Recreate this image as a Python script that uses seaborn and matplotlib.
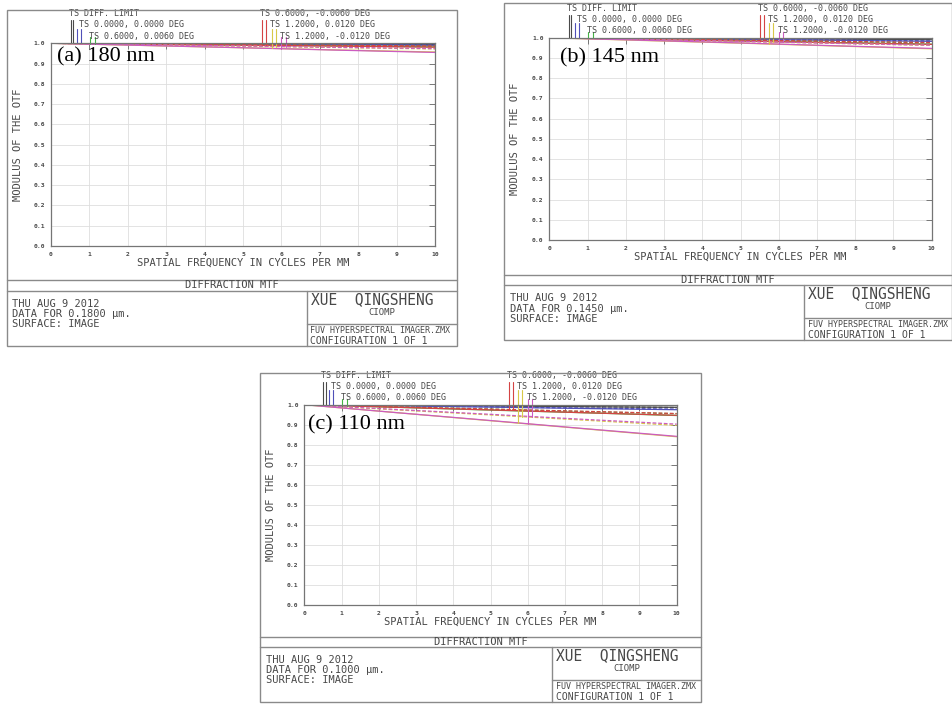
import numpy as np
import pandas as pd
import matplotlib
matplotlib.use("Agg")
import matplotlib.pyplot as plt
import seaborn as sns
from matplotlib.lines import Line2D
from matplotlib.patches import Rectangle

# ---------------- data ----------------
freq = [0, 2.5, 5, 7.5, 10]

# (a) 180 nm
a_diff_t = [1.0, 0.999, 0.997, 0.995, 0.994]
a_diff_s = [1.0, 0.999, 0.997, 0.995, 0.993]
a_f0_t = [1.0, 0.998, 0.995, 0.993, 0.990]
a_f0_s = [1.0, 0.998, 0.996, 0.993, 0.991]
a_f06p_t = [1.0, 0.996, 0.991, 0.987, 0.982]
a_f06p_s = [1.0, 0.997, 0.993, 0.990, 0.986]
a_f06m_t = [1.0, 0.995, 0.990, 0.986, 0.981]
a_f06m_s = [1.0, 0.997, 0.993, 0.990, 0.987]
a_f12p_t = [1.0, 0.989, 0.978, 0.967, 0.957]
a_f12p_s = [1.0, 0.993, 0.986, 0.979, 0.972]
a_f12m_t = [1.0, 0.989, 0.978, 0.966, 0.955]
a_f12m_s = [1.0, 0.993, 0.987, 0.980, 0.974]

# (b) 145 nm
b_diff_t = [1.0, 0.998, 0.995, 0.993, 0.990]
b_diff_s = [1.0, 0.998, 0.995, 0.993, 0.990]
b_f0_t = [1.0, 0.996, 0.991, 0.987, 0.982]
b_f0_s = [1.0, 0.996, 0.992, 0.988, 0.984]
b_f06p_t = [1.0, 0.992, 0.984, 0.976, 0.968]
b_f06p_s = [1.0, 0.994, 0.988, 0.981, 0.975]
b_f06m_t = [1.0, 0.992, 0.984, 0.975, 0.967]
b_f06m_s = [1.0, 0.994, 0.988, 0.982, 0.976]
b_f12p_t = [1.0, 0.986, 0.973, 0.959, 0.945]
b_f12p_s = [1.0, 0.991, 0.981, 0.972, 0.962]
b_f12m_t = [1.0, 0.987, 0.974, 0.960, 0.947]
b_f12m_s = [1.0, 0.991, 0.982, 0.972, 0.963]

# (c) 110 nm
c_diff_t = [1.0, 0.997, 0.994, 0.990, 0.987]
c_diff_s = [1.0, 0.997, 0.993, 0.990, 0.986]
c_f0_t = [1.0, 0.994, 0.988, 0.981, 0.975]
c_f0_s = [1.0, 0.995, 0.989, 0.983, 0.978]
c_f06p_t = [1.0, 0.987, 0.973, 0.960, 0.946]
c_f06p_s = [1.0, 0.989, 0.978, 0.966, 0.955]
c_f06m_t = [1.0, 0.987, 0.974, 0.960, 0.947]
c_f06m_s = [1.0, 0.989, 0.978, 0.967, 0.956]
c_f12p_t = [1.0, 0.960, 0.920, 0.880, 0.840]
c_f12p_s = [1.0, 0.974, 0.949, 0.923, 0.897]
c_f12m_t = [1.0, 0.960, 0.921, 0.881, 0.842]
c_f12m_s = [1.0, 0.976, 0.952, 0.927, 0.903]

field_keys = ["diff", "f0", "f06p", "f06m", "f12p", "f12m"]
legend_left = ["TS DIFF. LIMIT", "TS 0.0000, 0.0000 DEG", "TS 0.6000, 0.0060 DEG"]
legend_right = ["TS 0.6000, -0.0060 DEG", "TS 1.2000, 0.0120 DEG", "TS 1.2000, -0.0120 DEG"]
panel_titles = ["(a) 180 nm", "(b) 145 nm", "(c) 110 nm"]
wavelength_texts = ["DATA FOR 0.1800 µm.", "DATA FOR 0.1450 µm.", "DATA FOR 0.1000 µm."]
xtick_vals = list(range(0, 11))
ytick_vals = [round(0.1 * i, 1) for i in range(11)]
ytick_labels = [f"{v:.1f}" for v in ytick_vals]

panel_data = {
    "a": {"diff": (a_diff_t, a_diff_s), "f0": (a_f0_t, a_f0_s), "f06p": (a_f06p_t, a_f06p_s),
          "f06m": (a_f06m_t, a_f06m_s), "f12p": (a_f12p_t, a_f12p_s), "f12m": (a_f12m_t, a_f12m_s)},
    "b": {"diff": (b_diff_t, b_diff_s), "f0": (b_f0_t, b_f0_s), "f06p": (b_f06p_t, b_f06p_s),
          "f06m": (b_f06m_t, b_f06m_s), "f12p": (b_f12p_t, b_f12p_s), "f12m": (b_f12m_t, b_f12m_s)},
    "c": {"diff": (c_diff_t, c_diff_s), "f0": (c_f0_t, c_f0_s), "f06p": (c_f06p_t, c_f06p_s),
          "f06m": (c_f06m_t, c_f06m_s), "f12p": (c_f12p_t, c_f12p_s), "f12m": (c_f12m_t, c_f12m_s)},
}

# ---------------- style ----------------
sns.set_style("white")
plt.rcParams['font.family'] = ['DejaVu Sans Mono', 'DejaVu Sans']

colors = {"diff": "#4a4a4a", "f0": "#5050b8", "f06p": "#44b444", "f06m": "#d44444",
          "f12p": "#d8c848", "f12m": "#cc5cc0"}
EDGE = "#8a8a8a"
TXT = "#484848"

W, H = 952, 704
fig = plt.figure(figsize=(W / 100, H / 100), dpi=100)
fig.patch.set_facecolor("white")


def fx(x):
    return x / W


def fy(y):
    return 1 - y / H


def fline(x0, y0, x1, y1):
    fig.add_artist(Line2D([fx(x0), fx(x1)], [fy(y0), fy(y1)], transform=fig.transFigure,
                          color=EDGE, lw=1.0))


# layout (pixels)
layouts = {
    "a": dict(box=(6.5, 9.5, 456.5), ax=(51, 43.3, 435, 246), l1=280, l2=290.7, div=306.7,
              title_xy=(0.16, 0.933)),
    "b": dict(box=(504, 3.3, 951.5), ax=(549.3, 37.7, 931.7, 240), l1=275, l2=285, div=804,
              title_xy=(0.28, 0.90)),
    "c": dict(box=(260, 372.7, 701), ax=(304.3, 404.7, 676.7, 605), l1=636.7, l2=646.7, div=552,
              title_xy=(0.11, 0.90)),
}

tick_x = {"diff": (0.51, 0.58), "f0": (0.67, 0.78), "f06p": (1.02, 1.15),
          "f06m": (5.50, 5.61), "f12p": (5.75, 5.85), "f12m": (6.00, 6.12)}
row_of = {"diff": 0, "f0": 1, "f06p": 2, "f06m": 0, "f12p": 1, "f12m": 2}
row_top_px = [-23.0, -14.3, -6.0]

for idx, key in enumerate(["a", "b", "c"]):
    L = layouts[key]
    bl, bt, br = L["box"]
    axl, axt, axr, axb = L["ax"]
    l1, l2, div = L["l1"], L["l2"], L["div"]
    bottom = l2 + 55
    fuvline = l2 + 33.3

    # frame of the Zemax sheet
    fig.add_artist(Rectangle((fx(bl), fy(bottom)), fx(br) - fx(bl), fy(bt) - fy(bottom),
                             transform=fig.transFigure, fill=False, edgecolor=EDGE, lw=1.0))
    fline(bl, l1, br, l1)
    fline(bl, l2, br, l2)
    fline(div, l2, div, bottom)
    fline(div, fuvline, br, fuvline)

    # data frame
    rows = []
    for fk in field_keys:
        t, s = panel_data[key][fk]
        for f, v in zip(freq, t):
            rows.append((f, v, fk, "T"))
        for f, v in zip(freq, s):
            rows.append((f, v, fk, "S"))
    df = pd.DataFrame(rows, columns=["freq", "mtf", "field", "kind"])

    ax = fig.add_axes([fx(axl), fy(axb), (axr - axl) / W, (axb - axt) / H])
    sns.lineplot(data=df, x="freq", y="mtf", hue="field", style="kind", palette=colors,
                 hue_order=field_keys, style_order=["T", "S"],
                 dashes={"T": "", "S": (3, 1.5)}, estimator=None, legend=False,
                 lw=0.9, ax=ax)
    ax.set_xlim(0, 10)
    ax.set_ylim(0, 1)
    ax.set_xticks(xtick_vals)
    ax.set_xticklabels([str(v) for v in xtick_vals], fontsize=4.6, fontweight="bold", color=TXT)
    ax.set_yticks(ytick_vals)
    ax.set_yticklabels(ytick_labels, fontsize=4.6, fontweight="bold", color=TXT)
    ax.tick_params(axis="both", direction="in", length=4, width=0.7, color="#777777",
                   top=True, right=True, pad=4)
    ax.grid(True, color="#dedede", lw=0.6)
    ax.set_axisbelow(True)
    for sp in ax.spines.values():
        sp.set_color("#757575")
        sp.set_linewidth(0.9)
    ax.set_xlabel("")
    ax.set_ylabel("")

    span = axb - axt
    # legend blocks (monospace, staircase indent) and drop lines
    left_block = "\n".join([" " * (2 * i) + s for i, s in enumerate(legend_left)])
    right_block = "\n".join([" " * (2 * i) + s for i, s in enumerate(legend_right)])
    ax.text(0.46, 1 + 18.3 / span, left_block, fontsize=6, color=TXT, ha="left",
            va="center", linespacing=1.34, clip_on=False)
    ax.text(5.45, 1 + 18.3 / span, right_block, fontsize=6, color=TXT, ha="left",
            va="center", linespacing=1.34, clip_on=False)
    for fk in field_keys:
        t, s = panel_data[key][fk]
        top = 1 + (-row_top_px[row_of[fk]]) / span
        for xx, series in zip(tick_x[fk], (t, s)):
            ax.plot([xx, xx], [top, np.interp(xx, freq, series)], color=colors[fk], lw=0.8,
                    clip_on=False)

    # panel title
    ax.text(L["title_xy"][0], L["title_xy"][1], panel_titles[idx], fontsize=16,
            family="Liberation Serif", color="black", ha="left", va="center")

    # axis titles
    fig.text(fx((axl + axr) / 2), fy(axb + 16.5), "SPATIAL FREQUENCY IN CYCLES PER MM",
             fontsize=7.5, color=TXT, ha="center", va="center")
    fig.text(fx(bl + 11.5), fy((axt + axb) / 2), "MODULUS OF THE OTF", fontsize=7.5,
             color=TXT, ha="center", va="center", rotation=90)

    # sheet texts
    fig.text(fx((bl + br) / 2), fy((l1 + l2) / 2), "DIFFRACTION MTF", fontsize=7.5,
             color=TXT, ha="center", va="center")
    fig.text(fx(bl + 6), fy(l2 + 23.5),
             "THU AUG 9 2012\n" + wavelength_texts[idx] + "\nSURFACE: IMAGE",
             fontsize=7.5, color=TXT, ha="left", va="center", linespacing=1.02)
    fig.text(fx(div + 4.5), fy(l2 + 8.5), "XUE  QINGSHENG", fontsize=10.5, color=TXT,
             ha="left", va="center")
    fig.text(fx((div + br) / 2), fy(l2 + 21.5), "CIOMP", fontsize=6.5, color=TXT,
             ha="center", va="center")
    fig.text(fx(div + 3.5), fy(fuvline + 6.5), "FUV HYPERSPECTRAL IMAGER.ZMX", fontsize=6,
             color=TXT, ha="left", va="center")
    fig.text(fx(div + 3.5), fy(fuvline + 16.5), "CONFIGURATION 1 OF 1", fontsize=7,
             color=TXT, ha="left", va="center")

fig.savefig("out.png", dpi=100, facecolor="white")
